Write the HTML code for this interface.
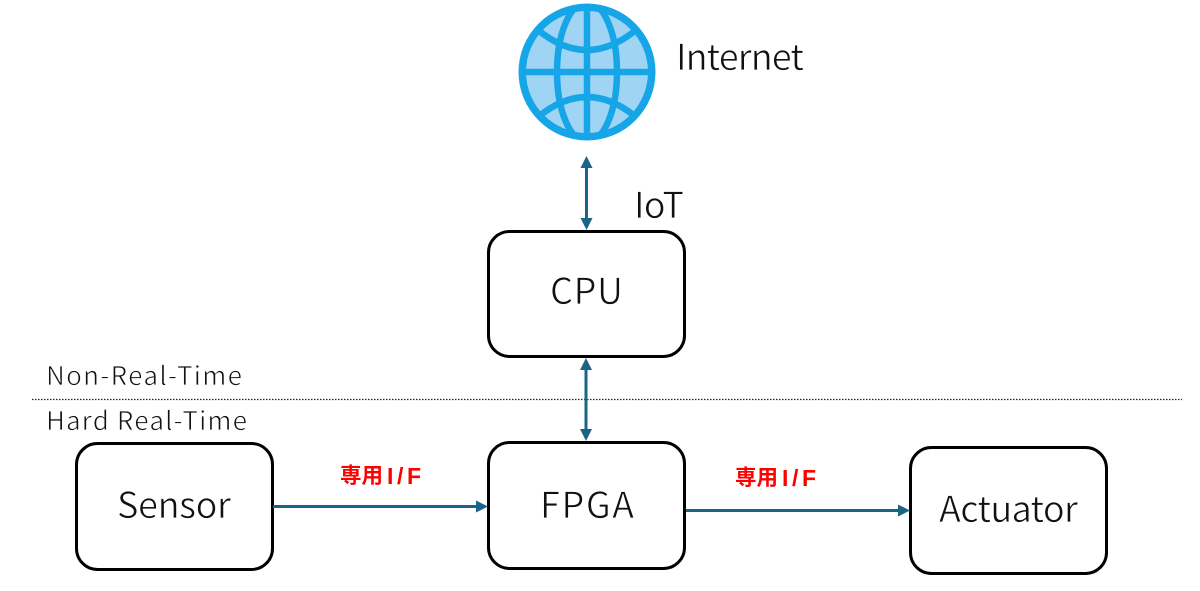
<!DOCTYPE html>
<html><head><meta charset="utf-8"><style>
html,body{margin:0;padding:0;background:#fff}
svg{display:block}
.t text{font-family:"Noto Sans CJK JP","Liberation Sans",sans-serif;fill:#111;stroke:#fff;stroke-width:.7px}
.r{font-family:"Liberation Sans","Noto Sans CJK JP",sans-serif;font-weight:700;fill:#ff0000;font-size:23px}
.c{font-family:"Noto Sans CJK JP",sans-serif;font-weight:700;fill:#ff0000;font-size:21.500px}
</style></head><body>
<svg width="1200" height="591" viewBox="0 0 1200 591" xmlns="http://www.w3.org/2000/svg">
<defs><clipPath id="g"><circle cx="587" cy="72" r="66"/></clipPath></defs>
<circle cx="587" cy="72" r="68.500" fill="#16a5e6"/>
<circle cx="587" cy="72" r="61" fill="#a0d4f5"/>
<g clip-path="url(#g)" fill="none" stroke="#16a5e6" stroke-width="6.500">
<path d="M519 72H655M587 4V140"/>
<ellipse cx="587" cy="72" rx="30" ry="70"/>
<path d="M538 30Q587 70 636 30M538 117Q587 77 636 117"/>
</g>
<g fill="#fff" stroke="#000" stroke-width="3">
<rect x="488.500" y="231.500" width="196" height="125" rx="21"/>
<rect x="488.500" y="442.500" width="196" height="126" rx="21"/>
<rect x="76.500" y="443.500" width="196" height="126" rx="21"/>
<rect x="910.500" y="447.500" width="196" height="126" rx="21"/>
</g>
<line x1="32" y1="399.500" x2="1182" y2="399.500" stroke="#222" stroke-width="1.300" stroke-dasharray="1.500 1.500"/>
<g stroke="#1a6488" stroke-width="3" fill="none">
<path d="M586.500 166V220M586 367V431M273 506.500H478M686 510.500H900"/>
</g>
<g fill="#1a6488">
<path d="M586.500 156L592.500 168H580.500ZM586.500 230L592.500 218H580.500Z"/>
<path d="M586 358L592 370H580ZM586 441L592 429H580Z"/>
<path d="M488 506.500L476 500.500V512.500ZM910 510.500L898 504.500V516.500Z"/>
</g>
<g class="t" font-size="36">
<text x="676" y="70" textLength="128">Internet</text>
<text x="634" y="218" textLength="50">IoT</text>
<text x="550" y="304" textLength="73">CPU</text>
<text x="117" y="518" textLength="114">Sensor</text>
<text x="540" y="518" textLength="94">FPGA</text>
<text x="939" y="522" textLength="139">Actuator</text>
</g>
<g class="t" font-size="26">
<text x="46" y="385" textLength="196">Non-Real-Time</text>
<text x="46" y="430" textLength="201">Hard Real-Time</text>
</g>
<text class="c" x="340" y="483">専用</text>
<text class="r" x="387" y="484" textLength="34">I/F</text>
<text class="c" x="735" y="485">専用</text>
<text class="r" x="782" y="486" textLength="34">I/F</text>
</svg>
</body></html>
